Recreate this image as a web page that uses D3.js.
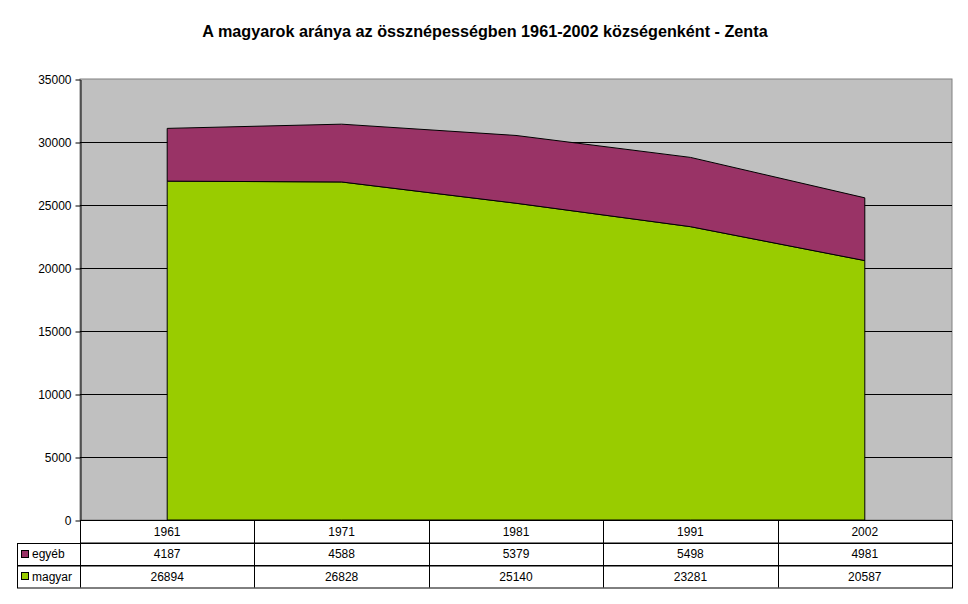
<!DOCTYPE html>
<html>
<head>
<meta charset="utf-8">
<script src="https://cdn.jsdelivr.net/npm/d3@7"></script>
<style>
  body { margin: 0; background: #fff; }
  text { font-family: "Liberation Sans", Arial, sans-serif; }
</style>
</head>
<body>
<div id="chart"></div>
<script>
var years = ["1961", "1971", "1981", "1991", "2002"];
var egyeb = [4187, 4588, 5379, 5498, 4981];
var magyar = [26894, 26828, 25140, 23281, 20587];
var seriesNames = ["magyar", "egyéb"];
var seriesColors = ["#99CC00", "#993366"];
var yTicks = [0, 5000, 10000, 15000, 20000, 25000, 30000, 35000];

var svgWidth = 968, svgHeight = 604;
var plot = { left: 80, right: 952, top: 79, bottom: 520 };
var rowH = 22.5;

var svg = d3.select("#chart").append("svg")
    .attr("width", svgWidth)
    .attr("height", svgHeight);

// title
svg.append("text")
    .attr("x", 485)
    .attr("y", 37)
    .attr("text-anchor", "middle")
    .style("font-size", "16.2px")
    .style("font-weight", "bold")
    .text("A magyarok aránya az össznépességben 1961-2002 községenként - Zenta");

var xScale = d3.scaleBand()
    .domain(years)
    .range([plot.left, plot.right]);

var yScale = d3.scaleLinear()
    .domain([0, 35000])
    .range([plot.bottom, plot.top]);

// plot background
svg.append("rect")
    .attr("x", plot.left)
    .attr("y", plot.top)
    .attr("width", plot.right - plot.left)
    .attr("height", plot.bottom - plot.top)
    .attr("fill", "#C0C0C0")
    .attr("stroke", "#808080")
    .attr("stroke-width", 1);

// gridlines
svg.selectAll(".grid")
    .data(yTicks.filter(d => d > 0 && d < 35000))
    .enter()
    .append("line")
    .attr("x1", plot.left)
    .attr("x2", plot.right)
    .attr("y1", d => Math.round(yScale(d)) + 0.5)
    .attr("y2", d => Math.round(yScale(d)) + 0.5)
    .attr("stroke", "#000")
    .attr("stroke-width", 1);

// stacked areas
var table = years.map(function(y, i) {
    return { year: y, "magyar": magyar[i], "egyéb": egyeb[i] };
});
var stack = d3.stack().keys(seriesNames);
var layers = stack(table);

var area = d3.area()
    .x(d => xScale(d.data.year) + xScale.bandwidth() / 2)
    .y0(d => yScale(d[0]))
    .y1(d => yScale(d[1]));

svg.selectAll(".layer")
    .data(layers)
    .enter()
    .append("path")
    .attr("d", area)
    .attr("fill", (d, i) => seriesColors[i])
    .attr("stroke", "#000")
    .attr("stroke-width", 1);

// y axis
var leftAxis = d3.axisLeft(yScale)
    .tickValues(yTicks)
    .tickSize(5)
    .tickSizeOuter(0)
    .tickPadding(4)
    .tickFormat(d3.format("d"));

var yAxis = svg.append("g")
    .attr("transform", `translate(${plot.left + 0.5},0.5)`)
    .call(leftAxis);
yAxis.selectAll("text")
    .style("font-size", "12px")
    .style("font-family", "'Liberation Sans', Arial, sans-serif")
    .attr("fill", "#000");
yAxis.selectAll("line, path").attr("stroke", "#000");

// data table
var tableG = svg.append("g").attr("class", "data-table");
var tLeft = 17;
var rows = [
    { label: null, values: years },
    { label: "egyéb", color: "#993366", values: egyeb },
    { label: "magyar", color: "#99CC00", values: magyar }
];

rows.forEach(function(row, r) {
    var y0 = plot.bottom + r * rowH;
    var x0 = row.label ? tLeft : plot.left;
    tableG.append("rect")
        .attr("x", x0 + 0.5)
        .attr("y", Math.round(y0) + 0.5)
        .attr("width", plot.right - x0)
        .attr("height", rowH)
        .attr("fill", "none")
        .attr("stroke", "#000");
    if (row.label) {
        tableG.append("rect")
            .attr("x", tLeft + 4.5)
            .attr("y", Math.round(y0 + rowH / 2 - 4) + 0.5)
            .attr("width", 7)
            .attr("height", 7)
            .attr("fill", row.color)
            .attr("stroke", "#000");
        tableG.append("text")
            .attr("x", tLeft + 15)
            .attr("y", y0 + rowH / 2 + 4.5)
            .style("font-size", "12px")
            .text(row.label);
    }
    tableG.selectAll(".cell" + r)
        .data(row.values)
        .enter()
        .append("text")
        .attr("x", (d, i) => xScale(years[i]) + xScale.bandwidth() / 2)
        .attr("y", y0 + rowH / 2 + 4.5)
        .attr("text-anchor", "middle")
        .style("font-size", "12px")
        .text(d => d);
});

// vertical separators
tableG.selectAll(".sep")
    .data(years)
    .enter()
    .append("line")
    .attr("x1", d => Math.round(xScale(d)) + 0.5)
    .attr("x2", d => Math.round(xScale(d)) + 0.5)
    .attr("y1", plot.bottom)
    .attr("y2", plot.bottom + 3 * rowH)
    .attr("stroke", "#000");
</script>
</body>
</html>
